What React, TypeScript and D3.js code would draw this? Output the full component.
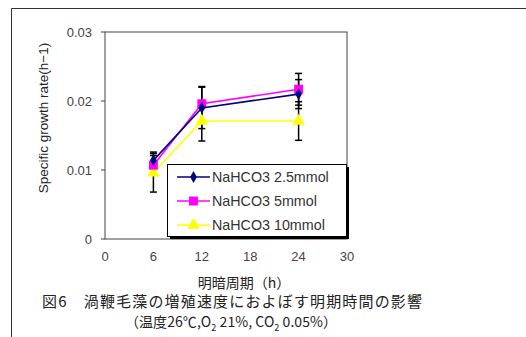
import React from "react";
import * as d3 from "d3";

const hours = [6, 12, 24];
const seriesNames = ["NaHCO3 2.5mmol", "NaHCO3 5mmol", "NaHCO3 10mmol"];
const values25 = [0.0114, 0.019, 0.021];
const values5 = [0.0107, 0.0196, 0.0217];
const values10 = [0.0096, 0.0171, 0.0171];
const errors25 = [0.0012, 0.003, 0.0021];
const errors5 = [0.0014, 0.0025, 0.0023];
const errors10 = [0.0028, 0.0029, 0.0028];
const xTicks = [0, 6, 12, 18, 24, 30];
const yTicks = [0, 0.01, 0.02, 0.03];
const yTickLabels = ["0", "0.01", "0.02", "0.03"];
const xTitle = "明暗周期（h）";
const yTitle = "Specific growth rate(h−1)";
const caption1 = "図6　渦鞭毛藻の増殖速度におよぼす明期時間の影響";

const W = 526;
const H = 337;
const L = 105, R = 347, T = 32, B = 239;

const colors = ["#000080", "#FF00FF", "#FFFF00"];
const shapes = [d3.symbolDiamond, d3.symbolSquare, d3.symbolTriangle];
const shapeSizes = [40, 80, 70];

const latin = "'Liberation Sans', Arial, sans-serif";
const cjk = "'Noto Sans CJK JP', 'Liberation Sans', sans-serif";

export default function App() {
  const x = d3.scaleLinear().domain([0, 30]).range([L, R]);
  const y = d3.scaleLinear().domain([0, 0.03]).range([B, T]);
  const series = [
    { name: seriesNames[0], v: values25, e: errors25 },
    { name: seriesNames[1], v: values5, e: errors5 },
    { name: seriesNames[2], v: values10, e: errors10 },
  ];
  const line = d3
    .line<number>()
    .x((_, i) => x(hours[i]))
    .y((d) => y(d));

  const legX = 167, legY = 164, legW = 179, legH = 72;
  const legRows = [177, 201, 225];

  return (
    <svg
      width={W}
      height={H}
      style={{ position: "absolute", left: 0, top: 0, display: "block", background: "#fff" }}
    >
      {/* outer frame */}
      <line x1={11.5} y1={8.5} x2={W} y2={8.5} stroke="#333" strokeWidth={1} />
      <line x1={11.5} y1={8.5} x2={11.5} y2={H} stroke="#333" strokeWidth={1} />
      <text x={421} y={-8} fontSize={14} fontFamily={latin} fill="#333" textAnchor="middle">(</text>
      <text x={477} y={-8} fontSize={14} fontFamily={latin} fill="#333" textAnchor="middle">)</text>

      {/* plot frame */}
      <rect x={L} y={T} width={R - L} height={B - T} fill="none" stroke="#444" strokeWidth={1} />

      {/* y ticks */}
      {yTicks.map((t, i) => (
        <g key={"yt" + i}>
          <line x1={L - 4} x2={L} y1={y(t)} y2={y(t)} stroke="#444" />
          <text
            x={92}
            y={y(t)}
            dy="0.35em"
            textAnchor="end"
            fontSize={13}
            fontFamily={latin}
            fill="#444"
          >
            {yTickLabels[i]}
          </text>
        </g>
      ))}
      {/* x tick labels */}
      {xTicks.map((t, i) => (
        <text
          key={"xt" + i}
          x={x(t)}
          y={256}
          dy="0.35em"
          textAnchor="middle"
          fontSize={13}
          fontFamily={latin}
          fill="#444"
        >
          {t}
        </text>
      ))}

      {/* axis titles */}
      <text
        transform={`translate(43,118) rotate(-90)`}
        textAnchor="middle"
        dy="0.35em"
        fontSize={13.5}
        fontFamily={latin}
        fill="#222"
      >
        {yTitle}
      </text>
      <text x={244} y={283} dy="0.35em" textAnchor="middle" fontSize={14} fontFamily={cjk} fill="#222">
        {xTitle}
      </text>

      {/* error bars */}
      {series.map((s, si) =>
        s.v.map((v, i) => {
          const cx = x(hours[i]);
          const y1 = y(v + s.e[i]);
          const y2 = y(v - s.e[i]);
          return (
            <g key={"e" + si + i} stroke="#000" strokeWidth={1.5}>
              <line x1={cx} x2={cx} y1={y1} y2={y2} />
              <line x1={cx - 3.5} x2={cx + 3.5} y1={y1} y2={y1} />
              <line x1={cx - 3.5} x2={cx + 3.5} y1={y2} y2={y2} />
            </g>
          );
        })
      )}

      {/* lines */}
      {series
        .slice()
        .reverse()
        .map((s, ri) => {
          const si = series.length - 1 - ri;
          return (
            <g key={"s" + si}>
              <path d={line(s.v) || ""} fill="none" stroke={colors[si]} strokeWidth={1.6} />
              {s.v.map((v, i) => (
                <path
                  key={i}
                  d={d3.symbol().type(shapes[si]).size(shapeSizes[si])() || ""}
                  transform={`translate(${x(hours[i])},${y(v)})`}
                  fill={colors[si]}
                />
              ))}
            </g>
          );
        })}

      {/* legend */}
      <rect x={legX + 3} y={legY + 3} width={legW} height={legH} fill="#000" />
      <rect x={legX + 0.5} y={legY + 0.5} width={legW} height={legH} fill="#fff" stroke="#000" strokeWidth={1} />
      {series.map((s, si) => (
        <g key={"lg" + si}>
          <line x1={177} x2={210} y1={legRows[si]} y2={legRows[si]} stroke={colors[si]} strokeWidth={1.6} />
          <path
            d={d3.symbol().type(shapes[si]).size(shapeSizes[si])() || ""}
            transform={`translate(193.5,${legRows[si]})`}
            fill={colors[si]}
          />
          <text x={212} y={legRows[si]} dy="0.36em" fontSize={14.3} fontFamily={latin} fill="#333">
            {s.name}
          </text>
        </g>
      ))}

      {/* caption */}
      <text x={42} y={302} dy="0.35em" fontSize={15} fontFamily={cjk} fill="#222" textLength={380} lengthAdjust="spacing">
        {caption1}
      </text>
      <text x={125} y={322} dy="0.35em" fontSize={14} fontFamily={cjk} fill="#222" textLength={212} lengthAdjust="spacing">
        <tspan>（温度26℃,O</tspan>
        <tspan fontSize={9} dy="4">2</tspan>
        <tspan dy="-4"> 21%, CO</tspan>
        <tspan fontSize={9} dy="4">2</tspan>
        <tspan dy="-4"> 0.05%）</tspan>
      </text>
    </svg>
  );
}
